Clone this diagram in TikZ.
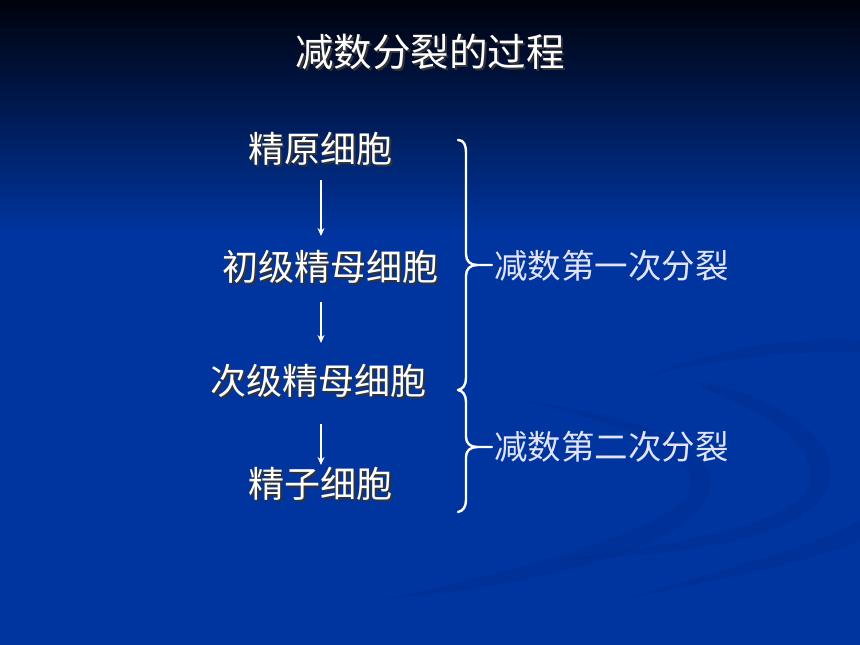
\documentclass[tikz,border=0pt]{standalone}
\usepackage{fontspec}
\newfontfamily\cjk{Noto Sans CJK SC}
\usetikzlibrary{arrows.meta}
\definecolor{bgblue}{HTML}{0035A0}
\definecolor{bgtop}{HTML}{00020C}
\definecolor{swoosh}{HTML}{002C8C}
\definecolor{lav}{HTML}{E2E4F6}
\newcommand{\shtext}[1]{\rlap{\hspace{2pt}\raisebox{-2pt}{\textcolor{black!80}{#1}}}\textcolor{white}{#1}}
\begin{document}
\begin{tikzpicture}[x=1pt,y=-1pt,
  lbl/.style={font=\cjk\fontsize{36}{40}\selectfont, inner sep=0pt},
  ttl/.style={font=\cjk\fontsize{38.5}{42}\selectfont, inner sep=0pt},
  rlbl/.style={font=\cjk\fontsize{33.5}{38}\selectfont, text=lav, inner sep=0pt, anchor=west},
  arr/.style={draw=white, line width=1.8pt, -{Stealth[length=8pt,width=7pt]}},
  brace/.style={draw=white, line width=2.4pt, line cap=round}]
\useasboundingbox (0,0) rectangle (860,645);
% background
\fill[bgblue] (0,0) rectangle (860,645);
\shade[top color=bgtop, bottom color=bgblue] (0,0) rectangle (860,235);
% faint swooshes
\begin{scope}[swoosh, opacity=0.35]
\fill (380,600) .. controls (560,560) and (700,520) .. (690,480)
  .. controls (680,440) and (600,420) .. (520,400)
  .. controls (610,410) and (720,440) .. (710,490)
  .. controls (700,540) and (560,585) .. (380,600) -- cycle;
\fill (560,560) .. controls (700,540) and (820,520) .. (810,470)
  .. controls (800,420) and (720,400) .. (690,380)
  .. controls (760,390) and (840,430) .. (830,480)
  .. controls (820,535) and (700,555) .. (560,560) -- cycle;
\fill (620,600) .. controls (720,580) and (820,560) .. (860,540)
  -- (860,520) .. controls (820,545) and (720,570) .. (620,600) -- cycle;
\fill (640,380) .. controls (700,350) and (800,335) .. (860,340)
  -- (860,352) .. controls (800,350) and (700,360) .. (640,380) -- cycle;
\end{scope}
% title
\node[ttl] (title) at (430,53) {\shtext{减数分裂的过程}};
% left labels
\node[lbl] (a) at (320,150) {\shtext{精原细胞}};
\node[lbl] (b) at (330,268) {\shtext{初级精母细胞}};
\node[lbl] (c) at (318,382) {\shtext{次级精母细胞}};
\node[lbl] (d) at (320,485) {\shtext{精子细胞}};
% arrows
\coordinate (a1) at (321,180); \coordinate (a2) at (321,236);
\coordinate (b1) at (321,302); \coordinate (b2) at (321,343);
\coordinate (c1) at (321,424); \coordinate (c2) at (321,465);
\draw[arr] (a1) -- (a2);
\draw[arr] (b1) -- (b2);
\draw[arr] (c1) -- (c2);
% braces
\draw[brace] (458,140) .. controls (464,140) and (466,145) .. (466,153)
  -- (466,254) .. controls (466,261) and (470,265) .. (477,265) -- (492,265);
\draw[brace] (477,265) .. controls (470,265) and (466,269) .. (466,276)
  -- (466,378) .. controls (466,385) and (463,389) .. (458,390);
\draw[brace] (458,390) .. controls (463,391) and (466,395) .. (466,402)
  -- (466,437) .. controls (466,443) and (470,447) .. (477,447) -- (492,447);
\draw[brace] (477,447) .. controls (470,447) and (466,451) .. (466,457)
  -- (466,500) .. controls (466,507) and (463,511) .. (458,512);
% right labels
\node[rlbl] (m1) at (494,266) {减数第一次分裂};
\node[rlbl] (m2) at (494,447) {减数第二次分裂};
\end{tikzpicture}
\end{document}
